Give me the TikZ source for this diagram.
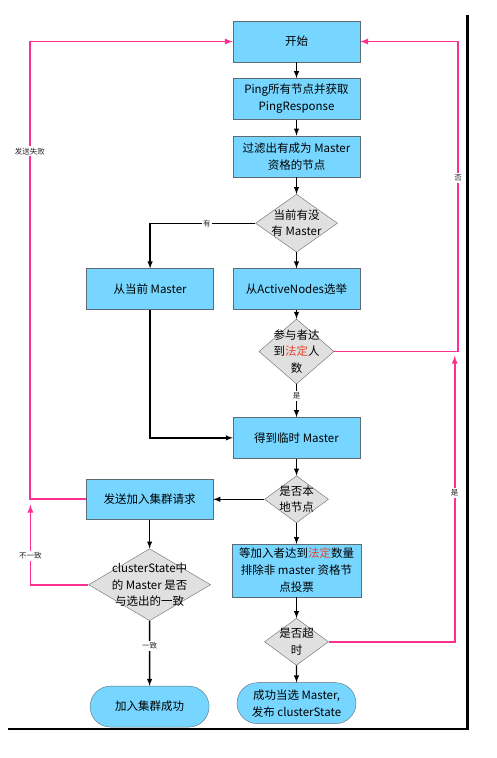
\documentclass[tikz,border=0pt]{standalone}
\usepackage{fontspec}
\setmainfont{Noto Sans CJK SC}
\usepackage{xcolor}
\usetikzlibrary{shapes,arrows,positioning}
\definecolor{boxblue}{HTML}{76D6FF}
\definecolor{boxline}{HTML}{5F6B73}
\definecolor{dgray}{HTML}{E0E0E0}
\definecolor{loopink}{HTML}{FF2F92}
\definecolor{quorumred}{HTML}{E8432A}
\tikzset{
  box/.style      = {rectangle, draw=boxline, fill=boxblue, minimum width=127pt, minimum height=41pt, inner sep=4pt, align=center, font=\fontsize{11.5}{17}\selectfont},
  term/.style     = {box, rounded rectangle},
  decision/.style = {diamond, draw=boxline, fill=dgray, inner sep=0pt},
  dtext/.style    = {align=center, font=\fontsize{11.5}{16.5}\selectfont},
  flow/.style     = {black, line width=1.4pt, ->, >=latex},
  retry/.style    = {loopink, line width=1.7pt, ->, >=latex},
  tag/.style      = {fill=white, text=black!85, inner sep=1.5pt, font=\fontsize{7.5}{9}\selectfont},
}

\begin{document}
\begin{tikzpicture}[x=1pt,y=-1pt]
      \useasboundingbox (0,0) rectangle (496,758);
      % right column
      \node[box] (start) at (296.5,41.5) {开始};
      \node[box, below=16pt of start] (ping) {Ping所有节点并获取\\PingResponse};
      \node[box, below=16pt of ping] (filter) {过滤出有成为 Master\\资格的节点};
      \node[decision, minimum width=82pt, minimum height=58pt, below=17pt of filter,
            label={[dtext]center:{当前有没\\有 Master}}] (hasmaster) {};
      \node[box, below=16pt of hasmaster] (active) {从ActiveNodes选举};
      \node[decision, minimum width=75pt, minimum height=65pt, below=9pt of active,
            label={[dtext]center:{参与者达\\到\textcolor{quorumred}{法定}人\\数}}] (quorum) {};
      \node[box, below=33pt of quorum] (tempmaster) {得到临时 Master};
      \node[decision, minimum width=64pt, minimum height=47pt, below=17pt of tempmaster,
            label={[dtext]center:{是否本\\地节点}}] (islocal) {};
      \node[box, minimum width=129pt, below=21pt of islocal] (waitvotes) {等加入者达到\textcolor{quorumred}{法定}数量\\排除非 master 资格节\\点投票};
      \node[decision, minimum width=64pt, minimum height=47pt, below=21pt of waitvotes,
            label={[dtext]center:{是否超\\时}}] (timeout) {};
      \node[term, below=17pt of timeout] (elected) {成功当选 Master,\\发布 clusterState};
      % left column
      \node[box, left=19pt of active] (current) {从当前 Master};
      \node[box, minimum height=40pt, left=51pt of islocal] (sendjoin) {发送加入集群请求};
      \node[decision, minimum width=122pt, minimum height=72pt, below=29pt of sendjoin,
            label={[dtext]center:{clusterState中\\的 Master 是否\\与选出的一致}}] (clusterok) {};
      \node[term, below=65pt of clusterok] (joined) {加入集群成功};

      \path (start) edge[flow] (ping);
      \path (ping) edge[flow] (filter);
      \path (filter) edge[flow] (hasmaster);
      \path (hasmaster) edge[flow] (active);
      \draw[flow] (hasmaster.west) -| node[tag, pos=0.23] {有} (current.north);
      \path (active) edge[flow] (quorum);
      \path (quorum) edge[flow] node[tag, pos=0.35] {是} (tempmaster);
      \draw[flow] (current.south) |- (tempmaster.west);
      \path (tempmaster) edge[flow] (islocal);
      \path (islocal) edge[flow] (sendjoin);
      \path (islocal) edge[flow] (waitvotes);
      \path (waitvotes) edge[flow] (timeout);
      \path (timeout) edge[flow] (elected);
      \path (sendjoin) edge[flow] (clusterok);
      \path (clusterok) edge[flow] node[tag, pos=0.38] {一致} (joined);

      % loops back
      \draw[retry] (sendjoin.west) -- ++(-56,0) |- node[tag, pos=0.38] {发送失败} (start.west);
      \draw[retry] (clusterok.west) -| node[tag, pos=0.68] {不一致} ++(-58,-80);
      \draw[retry] (quorum.east) -- ++(124,0) |- node[tag, pos=0.28] {否} (start.east);
      \draw[retry] (timeout.east) -| node[tag, pos=0.76] {是} ++(126,-286);

      % frame
      \draw[line width=2.5pt] (467.7,15) |- (8,729);
\end{tikzpicture}
\end{document}
